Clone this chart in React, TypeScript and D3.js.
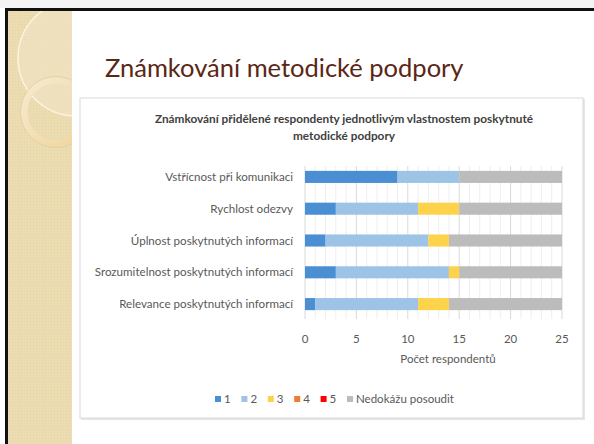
import React from 'react';
import * as d3 from 'd3';

const categories = [
  'Vstřícnost při komunikaci',
  'Rychlost odezvy',
  'Úplnost poskytnutých informací',
  'Srozumitelnost poskytnutých informací',
  'Relevance poskytnutých informací',
];
const seriesNames = ['1', '2', '3', '4', '5', 'Nedokážu posoudit'];
const grade1 = [9, 3, 2, 3, 1];
const grade2 = [6, 8, 10, 11, 10];
const grade3 = [0, 4, 2, 1, 3];
const grade4 = [0, 0, 0, 0, 0];
const grade5 = [0, 0, 0, 0, 0];
const cannotJudge = [10, 10, 11, 10, 11];
const xTicks = [0, 5, 10, 15, 20, 25];

const colors = ['#4a8ed3', '#9dc3e7', '#fdd34c', '#ed7d31', '#ff0000', '#bcbcbc'];

const W = 594;
const H = 444;

const App = () => {
  // Chart geometry
  const x = d3.scaleLinear().domain([0, 25]).range([305, 562]);
  const y = d3.scaleBand<string>().domain(categories).range([161, 320]).paddingInner(0.62).paddingOuter(0.31);

  const rows = categories.map((c, i) => ({
    cat: c,
    values: [grade1[i], grade2[i], grade3[i], grade4[i], grade5[i], cannotJudge[i]],
  }));
  const stack = d3
    .stack<any>()
    .keys(seriesNames)
    .value((d, key) => d.values[seriesNames.indexOf(key)]);
  const layers = stack(rows);

  const minor = d3.range(0, 26);
  const legendX = d3.scaleLinear().domain([0, 5]).range([215, 347]);

  const font = 'Lato, "Open Sans", sans-serif';

  return (
    <svg width={W} height={H} style={{ position: 'absolute', left: 0, top: 0 }} fontFamily={font}>
      <rect x={0} y={0} width={W} height={H} fill="#ffffff" />
      {/* slide frame */}
      <defs>
        <pattern id="dots" width="3" height="3" patternUnits="userSpaceOnUse">
          <rect width="3" height="3" fill="#ecdcb1" />
          <rect width="1" height="1" fill="#e4d2a3" />
        </pattern>
        <clipPath id="panel">
          <rect x={8} y={11} width={64} height={433} />
        </clipPath>
        <linearGradient id="ring" x1="0" y1="0" x2="1" y2="1">
          <stop offset="0" stopColor="#f6ead0" />
          <stop offset="1" stopColor="#f0d59a" />
        </linearGradient>
      </defs>
      <rect x={0} y={0} width={W} height={8} fill="#f4f4f4" />
      <rect x={8} y={11} width={64} height={433} fill="url(#dots)" />
      <g clipPath="url(#panel)">
        <circle cx={76} cy={58} r={58} fill="#f2e6c8" opacity={0.55} />
        <circle cx={76} cy={58} r={58} fill="none" stroke="#fbf3df" strokeWidth={1.5} />
        <circle cx={56} cy={112} r={32} fill="none" stroke="url(#ring)" strokeWidth={7} />
        <circle cx={56} cy={112} r={35.5} fill="none" stroke="#e3cc98" strokeWidth={0.8} />
      </g>
      <rect x={5} y={8} width={W - 5} height={3} fill="#111" />
      <rect x={5} y={8} width={3} height={H - 8} fill="#111" />

      <text x={105} y={77} fontSize={25.5} fill="#5a2616" fontFamily={font}>
        Známkování metodické podpory
      </text>

      {/* chart box */}
      <rect x={81} y={99} width={504} height={321} fill="#e6e6e6" />
      <rect x={80} y={98} width={503} height={320} fill="#ffffff" stroke="#d9d9d9" strokeWidth={1} />

      <text x={344} y={123} textAnchor="middle" fontSize={11.8} fontWeight="bold" fill="#404040">
        Známkování přidělené respondenty jednotlivým vlastnostem poskytnuté
      </text>
      <text x={344} y={140} textAnchor="middle" fontSize={11.8} fontWeight="bold" fill="#404040">
        metodické podpory
      </text>

      {/* gridlines */}
      {minor.map((t) => (
        <line
          key={'g' + t}
          x1={x(t)}
          x2={x(t)}
          y1={166}
          y2={319}
          stroke={t % 5 === 0 ? '#d9d9d9' : '#eeeeee'}
          strokeWidth={1}
        />
      ))}

      {/* bars */}
      {layers.map((layer, li) => (
        <g key={layer.key} fill={colors[li]}>
          {layer.map((d, i) =>
            d[1] - d[0] > 0 ? (
              <rect
                key={i}
                x={x(d[0])}
                y={y(categories[i])}
                width={x(d[1]) - x(d[0])}
                height={y.bandwidth()}
              />
            ) : null
          )}
        </g>
      ))}

      {/* category labels */}
      {categories.map((c) => (
        <text
          key={c}
          x={293}
          y={(y(c) || 0) + y.bandwidth() / 2}
          dy="0.35em"
          textAnchor="end"
          fontSize={11.6}
          fill="#595959"
        >
          {c}
        </text>
      ))}

      {/* x tick labels */}
      {xTicks.map((t) => (
        <text key={'t' + t} x={x(t)} y={343} textAnchor="middle" fontSize={11.5} fill="#595959">
          {t}
        </text>
      ))}
      <text x={448} y={363} textAnchor="middle" fontSize={11.5} fill="#595959">
        Počet respondentů
      </text>

      {/* legend */}
      {seriesNames.map((s, i) => (
        <g key={'l' + s} transform={`translate(${legendX(i)},399)`}>
          <rect x={0} y={-3} width={6} height={6} fill={colors[i]} />
          <text x={9} y={0} dy="0.35em" fontSize={11.5} fill="#595959">
            {s}
          </text>
        </g>
      ))}
    </svg>
  );
};

export default App;
